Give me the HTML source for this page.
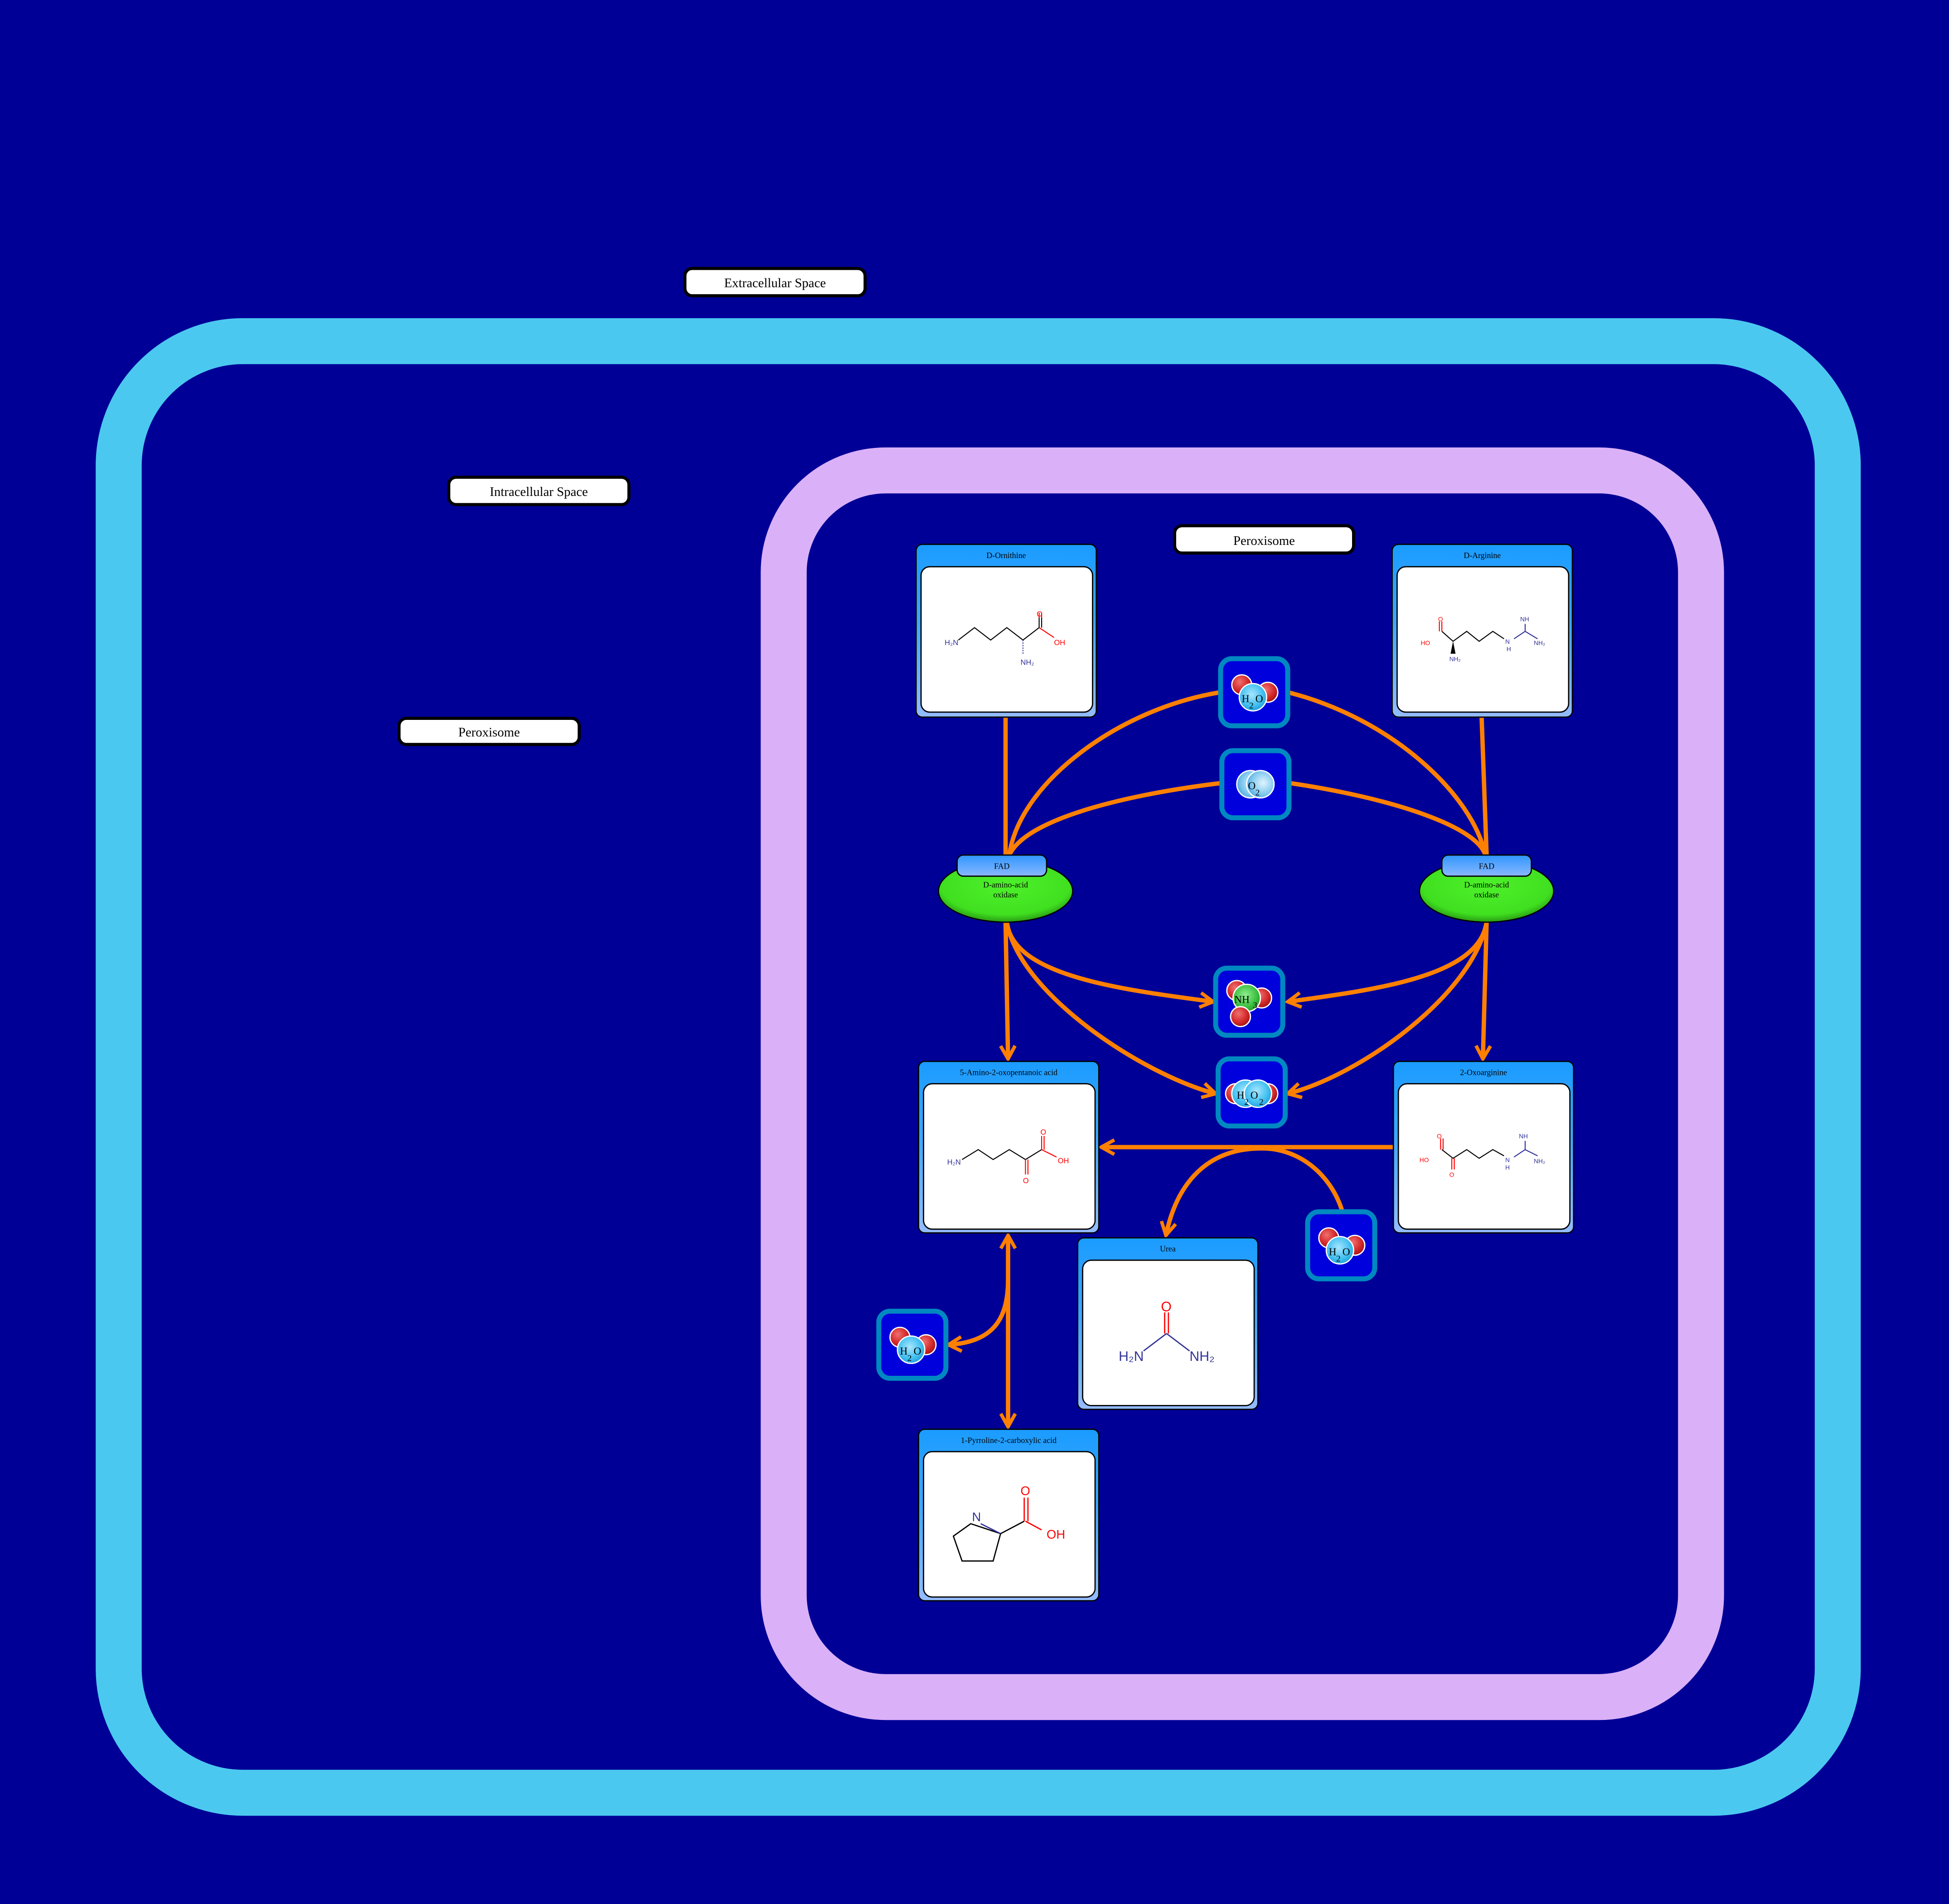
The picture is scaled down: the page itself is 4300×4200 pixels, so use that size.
<!DOCTYPE html>
<html><head><meta charset="utf-8">
<style>
html,body{margin:0;padding:0;background:#000096;}
svg{display:block;}
text{font-family:"Liberation Serif",serif;}
.mol text{font-family:"Liberation Sans",sans-serif;}
</style></head>
<body>
<svg width="4300" height="4200" viewBox="0 0 1568 1532" preserveAspectRatio="none" xmlns="http://www.w3.org/2000/svg">
<defs>
<linearGradient id="hdr" x1="0" y1="0" x2="0" y2="1">
<stop offset="0" stop-color="#1a9cff"/><stop offset="0.45" stop-color="#3fa6ff"/><stop offset="1" stop-color="#95bcff"/>
</linearGradient>
<linearGradient id="fad" x1="0" y1="0" x2="0" y2="1">
<stop offset="0" stop-color="#2f96ff"/><stop offset="1" stop-color="#8ab8ff"/>
</linearGradient>
<radialGradient id="grn" cx="0.5" cy="0.4" r="0.6">
<stop offset="0" stop-color="#4ef02a"/><stop offset="0.8" stop-color="#40e020"/><stop offset="1" stop-color="#2a9a14"/>
</radialGradient>
<radialGradient id="red" cx="0.4" cy="0.35" r="0.7">
<stop offset="0" stop-color="#f07070"/><stop offset="0.6" stop-color="#d42a2a"/><stop offset="1" stop-color="#a01010"/>
</radialGradient>
<radialGradient id="blu" cx="0.45" cy="0.4" r="0.7">
<stop offset="0" stop-color="#a8e6ff"/><stop offset="0.6" stop-color="#40bff0"/><stop offset="1" stop-color="#1890d0"/>
</radialGradient>
<radialGradient id="o2g" cx="0.6" cy="0.45" r="0.7">
<stop offset="0" stop-color="#e0f4ff"/><stop offset="0.6" stop-color="#80c8ee"/><stop offset="1" stop-color="#3a9ad8"/>
</radialGradient>
<radialGradient id="nh" cx="0.45" cy="0.4" r="0.7">
<stop offset="0" stop-color="#90f090"/><stop offset="0.6" stop-color="#3cc040"/><stop offset="1" stop-color="#1a8a20"/>
</radialGradient>
<marker id="ar" viewBox="0 0 12 12" refX="10" refY="6" markerWidth="4" markerHeight="4" orient="auto" markerUnits="strokeWidth">
<polyline points="1,1 10,6 1,11" fill="none" stroke="#ff8000" stroke-width="2.4"/>
</marker>
<marker id="ars" viewBox="0 0 12 12" refX="2" refY="6" markerWidth="4" markerHeight="4" orient="auto" markerUnits="strokeWidth">
<polyline points="11,1 2,6 11,11" fill="none" stroke="#ff8000" stroke-width="2.4"/>
</marker>
<g id="box">
<rect x="0" y="0" width="54" height="54" rx="9" fill="#0000dc" stroke="#0088c0" stroke-width="4"/>
</g>
</defs>

<rect width="1568" height="1532" fill="#000096"/>

<!-- compartments -->
<rect x="95.5" y="274.5" width="1383" height="1168" rx="100" fill="none" stroke="#4bc8f0" stroke-width="37"/>
<rect x="630.5" y="378.5" width="738" height="987" rx="82" fill="none" stroke="#dab0f8" stroke-width="37"/>

<!-- labels -->
<g font-size="10.5" text-anchor="middle">
<rect x="551" y="216" width="145" height="22" rx="6" fill="#fff" stroke="#000" stroke-width="2.5"/>
<text x="623.5" y="231">Extracellular Space</text>
<rect x="361" y="384" width="145" height="22" rx="6" fill="#fff" stroke="#000" stroke-width="2.5"/>
<text x="433.5" y="399">Intracellular Space</text>
<rect x="321" y="578" width="145" height="21" rx="6" fill="#fff" stroke="#000" stroke-width="2.5"/>
<text x="393.5" y="592.5">Peroxisome</text>
<rect x="945" y="423" width="144" height="22" rx="6" fill="#fff" stroke="#000" stroke-width="2.5"/>
<text x="1017" y="438.5">Peroxisome</text>
</g>

<!-- edges -->
<g fill="none" stroke="#ff8000" stroke-width="3.5">
<path d="M809,577 L809,688"/>
<path d="M982,557 C900,570 820,630 812,688"/>
<path d="M983,630 C900,640 825,660 812,688"/>
<path d="M1192,577 L1196,688"/>
<path d="M1036,557 C1120,578 1185,640 1195,688"/>
<path d="M1037,630 C1120,642 1188,665 1195,688"/>
<path d="M809,742 L811,852" marker-end="url(#ar)"/>
<path d="M810,742 C815,785 900,796 976,806" marker-end="url(#ar)"/>
<path d="M810,742 C820,800 920,865 978,880" marker-end="url(#ar)"/>
<path d="M1196,742 L1193,852" marker-end="url(#ar)"/>
<path d="M1196,742 C1190,785 1110,796 1036,806" marker-end="url(#ar)"/>
<path d="M1196,742 C1185,800 1095,865 1036,880" marker-end="url(#ar)"/>
<path d="M1121,923 L886,923" marker-end="url(#ar)"/>
<path d="M1015,924 C965,924 945,960 938,994" marker-end="url(#ar)"/>
<path d="M1080,975 C1072,948 1048,924 1015,924"/>
<path d="M811,994 L811,1148" marker-start="url(#ars)" marker-end="url(#ar)"/>
<path d="M811,1030 C811,1060 800,1080 763,1082" marker-end="url(#ar)"/>
</g>

<!-- molecule cards -->
<g font-size="6.5" text-anchor="middle">
<g transform="translate(737,438)">
<rect x="0" y="0" width="145" height="139" rx="5" fill="url(#hdr)" stroke="#000" stroke-width="1"/>
<rect x="4" y="18" width="138" height="117" rx="7" fill="#fff" stroke="#000" stroke-width="1"/>
<text x="72.5" y="11">D-Ornithine</text>
</g>
<g transform="translate(1120,438)">
<rect x="0" y="0" width="145" height="139" rx="5" fill="url(#hdr)" stroke="#000" stroke-width="1"/>
<rect x="4" y="18" width="138" height="117" rx="7" fill="#fff" stroke="#000" stroke-width="1"/>
<text x="72.5" y="11">D-Arginine</text>
</g>
<g transform="translate(739,854)">
<rect x="0" y="0" width="145" height="138" rx="5" fill="url(#hdr)" stroke="#000" stroke-width="1"/>
<rect x="4" y="18" width="138" height="117" rx="7" fill="#fff" stroke="#000" stroke-width="1"/>
<text x="72.5" y="11">5-Amino-2-oxopentanoic acid</text>
</g>
<g transform="translate(1121,854)">
<rect x="0" y="0" width="145" height="138" rx="5" fill="url(#hdr)" stroke="#000" stroke-width="1"/>
<rect x="4" y="18" width="138" height="117" rx="7" fill="#fff" stroke="#000" stroke-width="1"/>
<text x="72.5" y="11">2-Oxoarginine</text>
</g>
<g transform="translate(867,996)">
<rect x="0" y="0" width="145" height="138" rx="5" fill="url(#hdr)" stroke="#000" stroke-width="1"/>
<rect x="4" y="18" width="138" height="117" rx="7" fill="#fff" stroke="#000" stroke-width="1"/>
<text x="72.5" y="11">Urea</text>
</g>
<g transform="translate(739,1150)">
<rect x="0" y="0" width="145" height="138" rx="5" fill="url(#hdr)" stroke="#000" stroke-width="1"/>
<rect x="4" y="18" width="138" height="117" rx="7" fill="#fff" stroke="#000" stroke-width="1"/>
<text x="72.5" y="11">1-Pyrroline-2-carboxylic acid</text>
</g>
</g>

<!-- structures -->
<g class="mol" fill="none" stroke-width="0.8">
<!-- D-Ornithine -->
<polyline points="771,515 784,505 797,515 810,505 823,515 836,505" stroke="#000"/>
<line x1="836" y1="505" x2="836" y2="497" stroke="#000"/><line x1="838" y1="505" x2="838" y2="497" stroke="#000"/>
<line x1="836" y1="497" x2="836" y2="493" stroke="red"/><line x1="838" y1="497" x2="838" y2="493" stroke="red"/>
<line x1="836" y1="505" x2="848" y2="513" stroke="red"/>
<line x1="823" y1="515" x2="823" y2="527" stroke="#333399" stroke-dasharray="1,1"/>
<!-- D-Arginine -->
<polyline points="1160,508 1169,516 1180,508 1190,516 1201,508 1210,514" stroke="#000"/>
<polyline points="1218,514 1227,508 1237,514" stroke="#333399"/>
<line x1="1227" y1="508" x2="1227" y2="502" stroke="#333399"/>
<line x1="1160" y1="508" x2="1160" y2="500" stroke="red"/><line x1="1158" y1="508" x2="1158" y2="500" stroke="red"/>
<polygon points="1169,516 1167,526 1171,526" fill="#000" stroke="none"/>
<!-- 5-Amino-2-oxo -->
<polyline points="774,933 787,925 799,933 812,925 825,933 838,925" stroke="#000"/>
<line x1="825" y1="933" x2="825" y2="945" stroke="red"/><line x1="827" y1="933" x2="827" y2="945" stroke="red"/>
<line x1="838" y1="925" x2="838" y2="914" stroke="red"/><line x1="840" y1="925" x2="840" y2="914" stroke="red"/>
<line x1="838" y1="925" x2="850" y2="931" stroke="red"/>
<!-- 2-Oxoarginine -->
<polyline points="1160,925 1169,932 1180,925 1190,932 1201,925 1210,930" stroke="#000"/>
<polyline points="1218,931 1227,925 1237,930" stroke="#333399"/>
<line x1="1227" y1="925" x2="1227" y2="918" stroke="#333399"/>
<line x1="1159" y1="925" x2="1159" y2="916" stroke="red"/><line x1="1161" y1="925" x2="1161" y2="916" stroke="red"/>
<line x1="1168" y1="932" x2="1168" y2="941" stroke="red"/><line x1="1170" y1="932" x2="1170" y2="941" stroke="red"/>
<!-- Urea -->
<line x1="937" y1="1056" x2="937" y2="1073" stroke="red" stroke-width="1"/><line x1="940" y1="1056" x2="940" y2="1073" stroke="red" stroke-width="1"/>
<line x1="938.5" y1="1073" x2="920" y2="1087" stroke="#333399" stroke-width="1"/>
<line x1="938.5" y1="1073" x2="957" y2="1087" stroke="#333399" stroke-width="1"/>
<!-- Pyrroline -->
<polygon points="781,1226 767,1236 774,1256 799,1256 805,1234" stroke="#000" stroke-width="1" fill="none"/>
<line x1="789" y1="1226" x2="805" y2="1234" stroke="#333399" stroke-width="1"/>
<line x1="805" y1="1234" x2="824" y2="1224" stroke="#000" stroke-width="1"/>
<line x1="824" y1="1224" x2="824" y2="1205" stroke="red" stroke-width="1"/><line x1="827" y1="1224" x2="827" y2="1205" stroke="red" stroke-width="1"/>
<line x1="825" y1="1224" x2="838" y2="1231" stroke="red" stroke-width="1"/>
</g>
<g class="mol" font-size="6" stroke="none">
<text x="760" y="519" fill="#333399">H₂N</text>
<text x="834" y="496" fill="red">O</text>
<text x="848" y="519" fill="red">OH</text>
<text x="821" y="535" fill="#333399">NH₂</text>
<text x="1143" y="519" fill="red" font-size="5">HO</text>
<text x="1157" y="500" fill="red" font-size="5">O</text>
<text x="1166" y="532" fill="#333399" font-size="5">NH₂</text>
<text x="1211" y="518" fill="#333399" font-size="5">N</text>
<text x="1212" y="524" fill="#333399" font-size="5">H</text>
<text x="1223" y="500" fill="#333399" font-size="5">NH</text>
<text x="1234" y="519" fill="#333399" font-size="5">NH₂</text>
<text x="762" y="937" fill="#333399">H₂N</text>
<text x="837" y="913" fill="red">O</text>
<text x="851" y="936" fill="red">OH</text>
<text x="823" y="952" fill="red">O</text>
<text x="1142" y="935" fill="red" font-size="5">HO</text>
<text x="1156" y="916" fill="red" font-size="5">O</text>
<text x="1166" y="947" fill="red" font-size="5">O</text>
<text x="1211" y="935" fill="#333399" font-size="5">N</text>
<text x="1211" y="941" fill="#333399" font-size="5">H</text>
<text x="1222" y="916" fill="#333399" font-size="5">NH</text>
<text x="1234" y="936" fill="#333399" font-size="5">NH₂</text>
<text x="934" y="1055" fill="red" font-size="11">O</text>
<text x="900" y="1095" fill="#333399" font-size="11">H₂N</text>
<text x="957" y="1095" fill="#333399" font-size="11">NH₂</text>
<text x="782" y="1224" fill="#333399" font-size="10">N</text>
<text x="821" y="1203" fill="red" font-size="10">O</text>
<text x="842" y="1238" fill="red" font-size="10">OH</text>
</g>

<!-- enzymes -->
<g font-size="6.5" text-anchor="middle">
<ellipse cx="809" cy="717" rx="54" ry="25" fill="url(#grn)" stroke="#000" stroke-width="1"/>
<rect x="770" y="688" width="72" height="17" rx="5" fill="url(#fad)" stroke="#000" stroke-width="1"/>
<text x="806" y="699">FAD</text>
<text x="809" y="714">D-amino-acid</text><text x="809" y="722">oxidase</text>
<ellipse cx="1196" cy="717" rx="54" ry="25" fill="url(#grn)" stroke="#000" stroke-width="1"/>
<rect x="1160" y="688" width="72" height="17" rx="5" fill="url(#fad)" stroke="#000" stroke-width="1"/>
<text x="1196" y="699">FAD</text>
<text x="1196" y="714">D-amino-acid</text><text x="1196" y="722">oxidase</text>
</g>

<!-- species -->
<g font-size="8.5" stroke="#fff" stroke-width="1">
<!-- H2O top -->
<g transform="translate(982,530)">
<use href="#box"/>
<circle cx="17" cy="21" r="8" fill="url(#red)"/><circle cx="38" cy="27" r="8" fill="url(#red)"/>
<circle cx="26" cy="31" r="11" fill="url(#blu)"/>
<text x="17" y="35" stroke="none" fill="#000">H</text><text x="23" y="40" stroke="none" fill="#000" font-size="7">2</text><text x="28" y="35" stroke="none" fill="#000">O</text>
</g>
<!-- O2 -->
<g transform="translate(983,604)">
<use href="#box"/>
<circle cx="23" cy="27" r="11" fill="url(#o2g)"/><circle cx="31" cy="27" r="11" fill="url(#o2g)"/>
<text x="21" y="31" stroke="none" fill="#000">O</text><text x="27" y="36" stroke="none" fill="#000" font-size="7">2</text>
</g>
<!-- NH3 -->
<g transform="translate(978,779)">
<use href="#box"/>
<circle cx="17" cy="18" r="8" fill="url(#red)"/><circle cx="37" cy="24" r="8" fill="url(#red)"/>
<circle cx="25" cy="24" r="11" fill="url(#nh)"/>
<circle cx="20" cy="39" r="8" fill="url(#red)"/>
<text x="15" y="28" stroke="none" fill="#000">NH</text><text x="30" y="32" stroke="none" fill="#000" font-size="7">3</text>
</g>
<!-- H2O2 -->
<g transform="translate(980,852)">
<use href="#box"/>
<circle cx="14" cy="28" r="8" fill="url(#red)"/><circle cx="40" cy="28" r="8" fill="url(#red)"/>
<circle cx="22" cy="28" r="11" fill="url(#blu)"/><circle cx="32" cy="28" r="11" fill="url(#blu)"/>
<text x="15" y="32" stroke="none" fill="#000">H</text><text x="21" y="37" stroke="none" fill="#000" font-size="7">2</text><text x="26" y="32" stroke="none" fill="#000">O</text><text x="33" y="37" stroke="none" fill="#000" font-size="7">2</text>
</g>
<!-- H2O right -->
<g transform="translate(1052,975)">
<use href="#box"/>
<circle cx="17" cy="21" r="8" fill="url(#red)"/><circle cx="38" cy="27" r="8" fill="url(#red)"/>
<circle cx="26" cy="31" r="11" fill="url(#blu)"/>
<text x="17" y="35" stroke="none" fill="#000">H</text><text x="23" y="40" stroke="none" fill="#000" font-size="7">2</text><text x="28" y="35" stroke="none" fill="#000">O</text>
</g>
<!-- H2O left -->
<g transform="translate(707,1055)">
<use href="#box"/>
<circle cx="17" cy="21" r="8" fill="url(#red)"/><circle cx="38" cy="27" r="8" fill="url(#red)"/>
<circle cx="26" cy="31" r="11" fill="url(#blu)"/>
<text x="17" y="35" stroke="none" fill="#000">H</text><text x="23" y="40" stroke="none" fill="#000" font-size="7">2</text><text x="28" y="35" stroke="none" fill="#000">O</text>
</g>
</g>
</svg>
</body></html>
